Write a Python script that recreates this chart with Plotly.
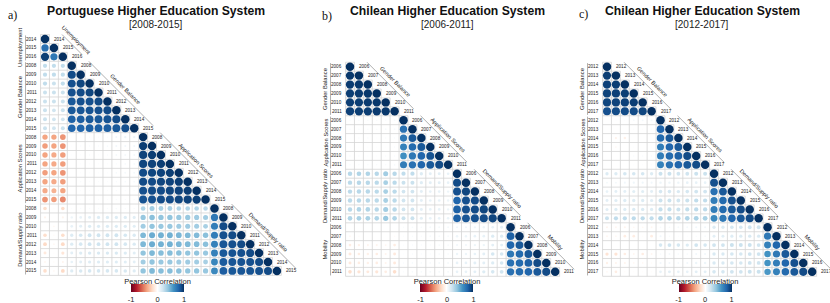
import plotly.graph_objects as go

W, H = 830, 303
C = 8.92  # cell size in px

# ---------------- Panel a: Portuguese Higher Education System ----------------
pt_groups = ["Unemployment", "Gender Balance", "Application Scores", "Demand/Supply ratio"]
pt_years = [["2014", "2015", "2016"],
            ["2008", "2009", "2010", "2011", "2012", "2013", "2014", "2015"],
            ["2008", "2009", "2010", "2011", "2012", "2013", "2014", "2015"],
            ["2008", "2009", "2010", "2011", "2012", "2013", "2014", "2015"]]
pt_U_U = [[1.0], [0.75, 1.0], [0.95, 0.72, 1.0]]
pt_G_U = [[0.25, 0.25, 0.25], [0.25, 0.25, 0.25], [0.25, 0.22, 0.25], [0.22, 0.22, 0.22],
          [0.22, 0.22, 0.22], [0.22, 0.2, 0.22], [0.22, 0.2, 0.2], [0.22, 0.2, 0.22]]
pt_G_G = [[1.0], [0.9, 1.0], [0.88, 0.92, 1.0], [0.88, 0.9, 0.92, 1.0],
          [0.85, 0.88, 0.88, 0.9, 1.0], [0.85, 0.86, 0.87, 0.88, 0.9, 1.0],
          [0.82, 0.83, 0.85, 0.85, 0.87, 0.9, 1.0],
          [0.8, 0.8, 0.82, 0.82, 0.83, 0.85, 0.88, 1.0]]
pt_A_U = [[-0.4, -0.4, -0.45], [-0.42, -0.4, -0.45], [-0.4, -0.38, -0.42], [-0.4, -0.38, -0.42],
          [-0.42, -0.4, -0.45], [-0.4, -0.38, -0.42], [-0.38, -0.35, -0.4], [-0.45, -0.42, -0.48]]
pt_A_G = [[0.02, 0.02, 0.03, 0.03, 0.03, 0.06, 0.08, 0.08],
          [0.02, 0.03, 0.03, 0.03, 0.04, 0.06, 0.06, 0.06],
          [0.02, 0.02, 0.03, 0.02, 0.03, 0.05, 0.05, 0.05],
          [0.01, 0.02, 0.02, 0.02, 0.02, 0.03, 0.04, 0.04],
          [0.01, 0.02, 0.02, 0.02, 0.02, 0.04, 0.05, 0.05],
          [0.01, 0.03, 0.02, 0.02, 0.02, 0.03, 0.04, 0.04],
          [0.01, 0.02, 0.02, 0.02, 0.02, 0.03, 0.03, 0.03],
          [0.01, 0.02, 0.02, 0.02, 0.02, 0.03, 0.03, 0.03]]
pt_A_A = [[1.0], [0.95, 1.0], [0.93, 0.95, 1.0], [0.92, 0.93, 0.95, 1.0],
          [0.9, 0.92, 0.93, 0.95, 1.0], [0.9, 0.9, 0.92, 0.93, 0.95, 1.0],
          [0.88, 0.9, 0.9, 0.92, 0.93, 0.95, 1.0],
          [0.87, 0.88, 0.9, 0.9, 0.92, 0.93, 0.95, 1.0]]
pt_D_U = [[-0.18, -0.02, -0.18], [-0.06, 0.0, -0.06], [0.0, -0.04, 0.0], [-0.18, -0.03, -0.18],
          [-0.2, -0.04, -0.2], [-0.12, -0.02, -0.14], [-0.05, -0.03, -0.06], [-0.18, -0.04, -0.2]]
pt_D_G = [[0.02, 0.03, 0.03, 0.03, 0.03, 0.04, 0.03, 0.03],
          [0.08, 0.1, 0.12, 0.15, 0.15, 0.15, 0.15, 0.13],
          [0.1, 0.12, 0.15, 0.15, 0.15, 0.15, 0.15, 0.13],
          [0.15, 0.18, 0.2, 0.2, 0.2, 0.2, 0.18, 0.16],
          [0.15, 0.18, 0.2, 0.2, 0.2, 0.2, 0.18, 0.16],
          [0.12, 0.15, 0.16, 0.16, 0.16, 0.16, 0.15, 0.13],
          [0.1, 0.12, 0.14, 0.14, 0.14, 0.14, 0.13, 0.12],
          [0.15, 0.17, 0.18, 0.18, 0.18, 0.18, 0.17, 0.15]]
pt_D_A = [[0.3, 0.35, 0.32, 0.32, 0.3, 0.3, 0.3, 0.28],
          [0.38, 0.42, 0.4, 0.4, 0.38, 0.38, 0.36, 0.35],
          [0.35, 0.4, 0.38, 0.38, 0.36, 0.36, 0.35, 0.33],
          [0.45, 0.5, 0.48, 0.48, 0.46, 0.45, 0.44, 0.42],
          [0.45, 0.5, 0.48, 0.48, 0.46, 0.45, 0.44, 0.42],
          [0.4, 0.45, 0.43, 0.43, 0.42, 0.4, 0.4, 0.38],
          [0.35, 0.4, 0.38, 0.38, 0.36, 0.36, 0.35, 0.33],
          [0.4, 0.45, 0.43, 0.43, 0.42, 0.4, 0.4, 0.38]]
pt_D_D = [[1.0], [0.72, 1.0], [0.7, 0.9, 1.0], [0.7, 0.88, 0.9, 1.0],
          [0.68, 0.86, 0.88, 0.9, 1.0], [0.68, 0.85, 0.87, 0.88, 0.9, 1.0],
          [0.66, 0.84, 0.86, 0.87, 0.88, 0.9, 1.0],
          [0.65, 0.83, 0.85, 0.86, 0.87, 0.88, 0.9, 1.0]]

# ---------------- Panel b: Chilean 2006-2011 ----------------
cl1_groups = ["Gender Balance", "Application Scores", "Demand/Supply ratio", "Mobility"]
cl1_years = [["2006", "2007", "2008", "2009", "2010", "2011"]] * 4
cl1_G_G = [[1.0], [0.97, 1.0], [0.96, 0.97, 1.0], [0.95, 0.96, 0.97, 1.0],
           [0.95, 0.95, 0.96, 0.97, 1.0], [0.94, 0.95, 0.95, 0.96, 0.97, 1.0]]
cl1_A_G = [[0.03, 0.03, 0.03, 0.03, 0.03, 0.04], [0.03, 0.03, 0.03, 0.03, 0.04, 0.04],
           [0.02, 0.03, 0.03, 0.02, 0.03, 0.03], [0.02, 0.02, 0.02, 0.02, 0.02, 0.03],
           [0.03, 0.03, 0.02, 0.02, 0.03, 0.03], [0.03, 0.03, 0.03, 0.03, 0.03, 0.04]]
cl1_A_A = [[1.0], [0.75, 1.0], [0.72, 0.85, 1.0], [0.68, 0.78, 0.85, 1.0],
           [0.62, 0.72, 0.8, 0.87, 1.0], [0.7, 0.75, 0.8, 0.85, 0.9, 1.0]]
cl1_D_G = [[0.28, 0.3, 0.3, 0.28, 0.35, 0.28], [0.27, 0.28, 0.28, 0.27, 0.33, 0.27],
           [0.27, 0.28, 0.28, 0.27, 0.33, 0.27], [0.27, 0.28, 0.28, 0.27, 0.33, 0.27],
           [0.28, 0.3, 0.3, 0.28, 0.35, 0.28], [0.3, 0.32, 0.32, 0.3, 0.38, 0.3]]
cl1_D_A = [[0.25, 0.25, 0.15, 0.12, 0.12, 0.1], [0.22, 0.22, 0.14, 0.12, 0.12, 0.1],
           [0.2, 0.2, 0.12, 0.1, 0.1, 0.08], [0.2, 0.2, 0.12, 0.1, 0.1, 0.08],
           [0.2, 0.2, 0.12, 0.1, 0.1, 0.08], [0.22, 0.22, 0.13, 0.1, 0.1, 0.09]]
cl1_D_D = [[1.0], [0.9, 1.0], [0.88, 0.92, 1.0], [0.8, 0.88, 0.9, 1.0],
           [0.82, 0.88, 0.9, 0.92, 1.0], [0.82, 0.86, 0.88, 0.9, 0.92, 1.0]]
cl1_M_G = [[0.0, 0.01, 0.0, 0.0, 0.0, 0.01], [-0.04, -0.03, -0.01, -0.01, -0.01, -0.03],
           [-0.1, -0.08, -0.06, -0.06, -0.05, -0.1], [-0.12, -0.1, -0.08, -0.1, -0.06, -0.12],
           [-0.12, -0.1, -0.08, -0.1, -0.06, -0.12], [-0.18, -0.15, -0.12, -0.14, -0.1, -0.18]]
cl1_M_A = [[0.03, 0.04, 0.04, 0.05, 0.05, 0.05], [0.02, 0.03, 0.03, 0.04, 0.04, 0.04],
           [0.02, 0.03, 0.03, 0.03, 0.04, 0.04], [0.02, 0.03, 0.03, 0.03, 0.04, 0.04],
           [0.03, 0.04, 0.04, 0.04, 0.05, 0.05], [0.03, 0.04, 0.04, 0.05, 0.05, 0.05]]
cl1_M_D = [[0.06, 0.06, 0.07, 0.08, 0.1, 0.12], [0.08, 0.08, 0.1, 0.1, 0.15, 0.15],
           [0.06, 0.06, 0.08, 0.08, 0.12, 0.12], [0.08, 0.08, 0.1, 0.12, 0.18, 0.18],
           [0.1, 0.1, 0.12, 0.12, 0.15, 0.18], [0.1, 0.1, 0.12, 0.15, 0.18, 0.2]]
cl1_M_M = [[1.0], [0.82, 1.0], [0.8, 0.85, 1.0], [0.72, 0.78, 0.85, 1.0],
           [0.75, 0.78, 0.82, 0.9, 1.0], [0.75, 0.78, 0.8, 0.85, 0.9, 1.0]]

# ---------------- Panel c: Chilean 2012-2017 ----------------
cl2_groups = ["Gender Balance", "Application Scores", "Demand/Supply ratio", "Mobility"]
cl2_years = [["2012", "2013", "2014", "2015", "2016", "2017"]] * 4
cl2_G_G = [[1.0], [0.95, 1.0], [0.94, 0.95, 1.0], [0.93, 0.94, 0.95, 1.0],
           [0.92, 0.93, 0.94, 0.95, 1.0], [0.88, 0.9, 0.9, 0.9, 0.92, 1.0]]
cl2_A_G = [[0.01, 0.02, 0.02, 0.04, 0.05, 0.05], [0.01, 0.01, 0.01, 0.02, 0.02, 0.02],
           [0.01, -0.07, -0.08, 0.01, 0.01, 0.01], [0.01, -0.04, 0.01, 0.02, 0.01, 0.02],
           [0.01, 0.01, 0.01, 0.03, 0.03, 0.03], [0.01, 0.01, 0.01, 0.02, 0.02, 0.02]]
cl2_A_A = [[1.0], [0.8, 1.0], [0.78, 0.85, 1.0], [0.7, 0.8, 0.85, 1.0],
           [0.7, 0.78, 0.82, 0.9, 1.0], [0.68, 0.75, 0.8, 0.85, 0.9, 1.0]]
cl2_D_G = [[0.15, 0.15, 0.18, 0.18, 0.18, 0.15], [0.05, 0.05, 0.06, 0.07, 0.07, 0.06],
           [0.1, 0.12, 0.12, 0.13, 0.13, 0.12], [0.12, 0.14, 0.15, 0.15, 0.15, 0.14],
           [0.13, 0.15, 0.15, 0.16, 0.16, 0.15], [0.22, 0.25, 0.25, 0.26, 0.26, 0.25]]
cl2_D_A = [[0.22, 0.22, 0.2, 0.2, 0.22, 0.22], [0.08, 0.08, 0.08, 0.1, 0.1, 0.1],
           [0.18, 0.18, 0.16, 0.18, 0.2, 0.2], [0.22, 0.22, 0.2, 0.22, 0.25, 0.25],
           [0.24, 0.24, 0.22, 0.24, 0.26, 0.26], [0.3, 0.3, 0.28, 0.3, 0.32, 0.32]]
cl2_D_D = [[1.0], [0.88, 1.0], [0.75, 0.85, 1.0], [0.7, 0.78, 0.88, 1.0],
           [0.7, 0.78, 0.85, 0.9, 1.0], [0.65, 0.72, 0.8, 0.85, 0.9, 1.0]]
cl2_M_G = [[-0.06, -0.05, -0.06, -0.04, -0.04, -0.05], [-0.05, -0.04, -0.1, -0.1, -0.02, -0.1],
           [0.01, 0.01, 0.0, 0.0, 0.0, 0.0], [-0.15, -0.15, -0.1, -0.05, -0.1, -0.05],
           [-0.08, -0.06, -0.06, -0.04, -0.04, -0.03], [-0.04, -0.1, -0.03, -0.02, -0.02, -0.02]]
cl2_M_A = [[0.04, 0.04, 0.05, 0.05, 0.06, 0.06], [0.06, 0.03, 0.02, 0.02, 0.03, 0.04],
           [0.18, 0.2, 0.18, 0.15, 0.2, 0.18], [0.04, 0.05, 0.04, 0.04, 0.06, 0.06],
           [0.06, 0.06, 0.05, 0.06, 0.08, 0.08], [0.1, 0.12, 0.1, 0.1, 0.12, 0.12]]
cl2_M_D = [[0.15, 0.15, 0.18, 0.18, 0.2, 0.2], [0.12, 0.12, 0.14, 0.15, 0.16, 0.16],
           [0.2, 0.2, 0.22, 0.22, 0.22, 0.2], [0.16, 0.16, 0.18, 0.18, 0.2, 0.2],
           [0.16, 0.16, 0.18, 0.18, 0.2, 0.2], [0.18, 0.18, 0.2, 0.2, 0.22, 0.22]]
cl2_M_M = [[1.0], [0.72, 1.0], [0.68, 0.8, 1.0], [0.6, 0.72, 0.85, 1.0],
           [0.6, 0.7, 0.8, 0.88, 1.0], [0.58, 0.68, 0.78, 0.85, 0.9, 1.0]]

titles = ["Portuguese Higher Education System", "Chilean Higher Education System",
          "Chilean Higher Education System"]
subtitles = ["[2008-2015]", "[2006-2011]", "[2012-2017]"]
panel_tags = ["a)", "b)", "c)"]

# corrplot RdBu palette
palette = ["#67001F", "#B2182B", "#D6604D", "#F4A582", "#FDDBC7", "#FFFFFF",
           "#D1E5F0", "#92C5DE", "#4393C3", "#2166AC", "#053061"]
colorscale = [[i / 10, c] for i, c in enumerate(palette)]

panels = [
    dict(groups=pt_groups, years=pt_years,
         blocks=[[pt_U_U], [pt_G_U, pt_G_G], [pt_A_U, pt_A_G, pt_A_A], [pt_D_U, pt_D_G, pt_D_A, pt_D_D]],
         x0=45.0, y0=39.0, dom=(0, 305), title_x=156, tag=(12, 15), cb_x=157.5),
    dict(groups=cl1_groups, years=cl1_years,
         blocks=[[cl1_G_G], [cl1_A_G, cl1_A_A], [cl1_D_G, cl1_D_A, cl1_D_D], [cl1_M_G, cl1_M_A, cl1_M_D, cl1_M_M]],
         x0=350.0, y0=66.7, dom=(290, 585), title_x=447, tag=(327, 16), cb_x=447),
    dict(groups=cl2_groups, years=cl2_years,
         blocks=[[cl2_G_G], [cl2_A_G, cl2_A_A], [cl2_D_G, cl2_D_A, cl2_D_D], [cl2_M_G, cl2_M_A, cl2_M_D, cl2_M_M]],
         x0=607.0, y0=66.7, dom=(561, 830), title_x=702, tag=(583, 14), cb_x=705),
]

fig = go.Figure()
shapes = []
annotations = []
layout_axes = {}
GRID = "#d4d4d4"
LINE = "#9a9a9a"
TXT = "#222222"

for p_i, P in enumerate(panels):
    sfx = "" if p_i == 0 else str(p_i + 1)
    xr, yr = "x" + sfx, "y" + sfx
    sizes_g = [len(y) for y in P["years"]]
    starts = [sum(sizes_g[:k]) for k in range(len(sizes_g))]
    N = sum(sizes_g)
    xs, ys, vals, labels = [], [], [], []
    for gi in range(len(sizes_g)):
        for gj in range(gi + 1):
            blk = P["blocks"][gi][gj]
            for a, row in enumerate(blk):
                for b, v in enumerate(row):
                    r = starts[gi] + a
                    c = starts[gj] + b
                    xs.append(c)
                    ys.append(r)
                    vals.append(v)
                    labels.append(f"{P['groups'][gi]} {P['years'][gi][a]} / {P['groups'][gj]} {P['years'][gj][b]}: {v:.2f}")
    msize = [0.95 * C * abs(v) ** 0.5 for v in vals]
    fig.add_trace(go.Scatter(
        x=xs, y=ys, mode="markers", xaxis=xr, yaxis=yr, text=labels, hoverinfo="text",
        marker=dict(size=msize, color=vals, colorscale=colorscale, cmin=-1, cmax=1,
                    line=dict(width=0), opacity=1,
                    showscale=True,
                    colorbar=dict(orientation="h", x=P["cb_x"] / W, xanchor="center",
                                  y=1 - 275 / H, yanchor="top", yref="paper",
                                  lenmode="pixels", len=53, thickness=8,
                                  outlinewidth=0, ticks="", ticklen=0, tickvals=[-1, 0, 1],
                                  ticktext=["-1", "0", "1"],
                                  tickfont=dict(size=7.5, family="Liberation Sans", color=TXT),
                                  title=dict(text="Pearson Correlation", side="top",
                                             font=dict(size=7.5, family="Liberation Sans", color=TXT)),
                                  xpad=0, ypad=0)),
        showlegend=False))
    d0, d1 = P["dom"]
    xrange = [(d0 - P["x0"]) / C, (d1 - P["x0"]) / C]
    yrange = [(H - P["y0"]) / C, (0 - P["y0"]) / C]
    layout_axes["xaxis" + sfx] = dict(domain=[d0 / W, d1 / W], range=xrange, visible=False,
                                      anchor=yr, fixedrange=True)
    layout_axes["yaxis" + sfx] = dict(domain=[0, 1], range=yrange, visible=False,
                                      anchor=xr, fixedrange=True)
    # grid lines (lower triangle)
    for k in range(N + 1):
        xe = min(k, N - 1) + 0.5
        shapes.append(dict(type="line", xref=xr, yref=yr, x0=-0.5, x1=xe, y0=k - 0.5, y1=k - 0.5,
                           line=dict(color=GRID, width=0.8), layer="below"))
    for m in range(N + 1):
        ys0 = max(m - 1, 0) - 0.5
        shapes.append(dict(type="line", xref=xr, yref=yr, x0=m - 0.5, x1=m - 0.5, y0=ys0, y1=N - 0.5,
                           line=dict(color=GRID, width=0.8), layer="below"))
    # labels
    for gi, g in enumerate(P["groups"]):
        r0 = starts[gi]
        r1 = r0 + sizes_g[gi] - 1
        for a, yl in enumerate(P["years"][gi]):
            r = r0 + a
            annotations.append(dict(x=-0.5, y=r, xref=xr, yref=yr, text=yl, showarrow=False,
                                    xanchor="right", yanchor="middle", xshift=-1.5,
                                    font=dict(size=4.6, family="Liberation Sans", color=TXT)))
            annotations.append(dict(x=r + 0.5, y=r, xref=xr, yref=yr, text=yl, showarrow=False,
                                    xanchor="left", yanchor="middle", xshift=2.5,
                                    font=dict(size=4.6, family="Liberation Sans", color=TXT)))
        # left group label and bracket
        annotations.append(dict(x=-0.5 - 20.5 / C, y=(r0 + r1) / 2, xref=xr, yref=yr, text=g,
                                showarrow=False, textangle=-90, xanchor="center", yanchor="middle",
                                font=dict(size=5.8, family="Liberation Sans", color=TXT)))
        shapes.append(dict(type="line", xref=xr, yref=yr, x0=-0.5 - 15 / C, x1=-0.5 - 15 / C,
                           y0=r0 - 0.4, y1=r1 + 0.4, line=dict(color=LINE, width=0.8)))
        # diagonal group line and label
        dd = 21.5 / C
        ya, yb = r0 - 0.5, r1 + 0.5 - 7 / C
        shapes.append(dict(type="line", xref=xr, yref=yr, x0=ya + dd, x1=yb + dd, y0=ya, y1=yb,
                           line=dict(color=LINE, width=0.8)))
        ym = (ya + yb) / 2
        off = 4.2 / C
        annotations.append(dict(x=ym + dd + off, y=ym - off, xref=xr, yref=yr, text=g,
                                showarrow=False, textangle=45, xanchor="center", yanchor="middle",
                                font=dict(size=5.6, family="Liberation Sans", color=TXT)))
    # titles
    annotations.append(dict(x=P["title_x"] / W, y=1 - 10.5 / H, xref="paper", yref="paper",
                            text="<b>" + titles[p_i] + "</b>", showarrow=False,
                            xanchor="center", yanchor="middle",
                            font=dict(size=12.2, family="Liberation Sans", color="#111111")))
    annotations.append(dict(x=P["title_x"] / W, y=1 - 24.5 / H, xref="paper", yref="paper",
                            text=subtitles[p_i], showarrow=False,
                            xanchor="center", yanchor="middle",
                            font=dict(size=10, family="Liberation Sans", color="#222222")))
    annotations.append(dict(x=P["tag"][0] / W, y=1 - P["tag"][1] / H, xref="paper", yref="paper",
                            text=panel_tags[p_i], showarrow=False,
                            xanchor="center", yanchor="middle",
                            font=dict(size=12, family="Liberation Serif", color="#111111")))

fig.update_layout(width=W, height=H, margin=dict(l=0, r=0, t=0, b=0, pad=0, autoexpand=False),
                  paper_bgcolor="white", plot_bgcolor="rgba(0,0,0,0)",
                  shapes=shapes, annotations=annotations, **layout_axes)
fig.write_html("out.html", config={"displayModeBar": False},
               post_script="document.body.style.margin='0px';document.body.style.overflow='hidden';")
